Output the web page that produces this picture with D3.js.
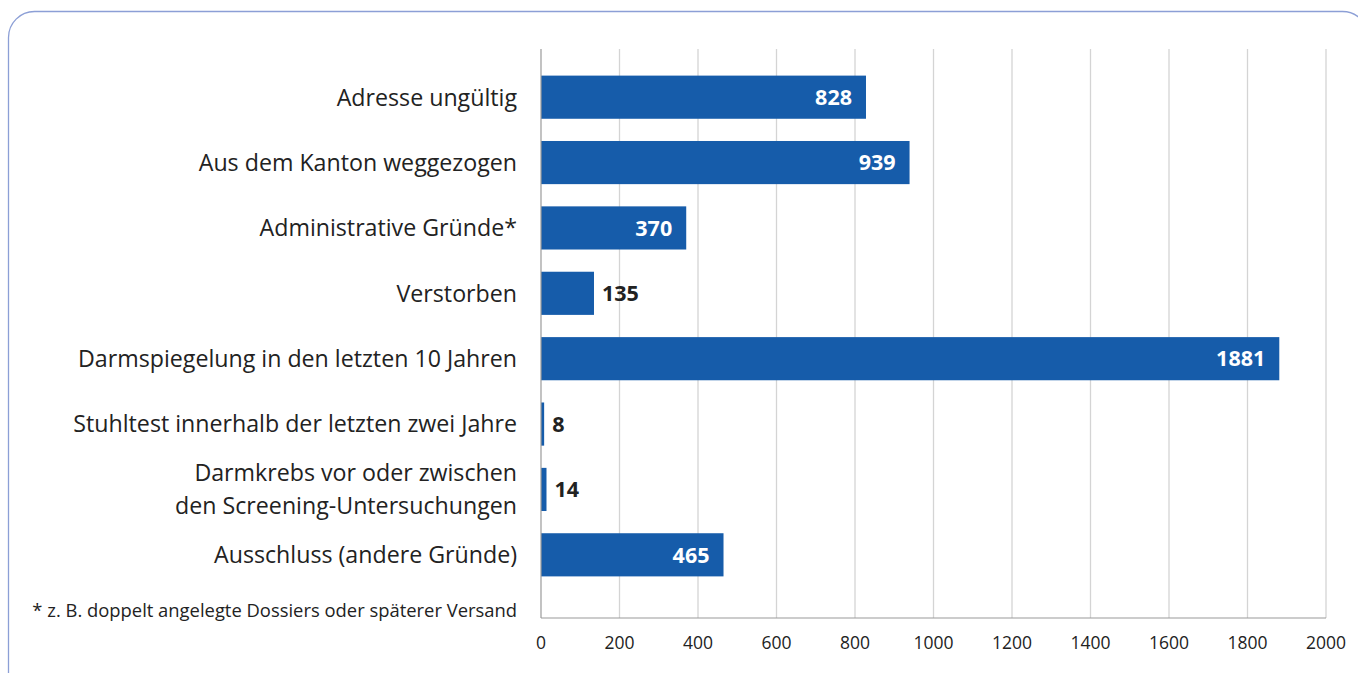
<!DOCTYPE html>
<html>
<head>
<meta charset="utf-8">
<script src="https://cdn.jsdelivr.net/npm/d3@7"></script>
<style>
  body { margin: 0; background: #fff; }
  svg { display: block; font-family: "Open Sans", Lato, sans-serif; }
</style>
</head>
<body>
<svg id="chart" width="1358" height="673"></svg>
<script>
// data
const categories = [
  "Adresse ungültig",
  "Aus dem Kanton weggezogen",
  "Administrative Gründe*",
  "Verstorben",
  "Darmspiegelung in den letzten 10 Jahren",
  "Stuhltest innerhalb der letzten zwei Jahre",
  "Darmkrebs vor oder zwischen\nden Screening-Untersuchungen",
  "Ausschluss (andere Gründe)"
];
const values = [828, 939, 370, 135, 1881, 8, 14, 465];
const tickValues = [0, 200, 400, 600, 800, 1000, 1200, 1400, 1600, 1800, 2000];
const footnote = "* z. B. doppelt angelegte Dossiers oder späterer Versand";

const svg = d3.select("#chart");
const barColor = "#165CAA";

// rounded frame
svg.append("rect")
  .attr("x", 8.5).attr("y", 11.5)
  .attr("width", 1360).attr("height", 700)
  .attr("rx", 26).attr("ry", 26)
  .attr("fill", "none")
  .attr("stroke", "#8C9FD6")
  .attr("stroke-width", 1.3);

const x = d3.scaleLinear().domain([0, 2000]).range([541, 1326]);
const y = d3.scaleBand().domain(d3.range(categories.length)).range([64.5, 587.5]).paddingInner(0.34).paddingOuter(0.17);

const gridTop = 49, gridBottom = 618;

// gridlines
svg.append("g").selectAll("line")
  .data(tickValues.slice(1))
  .join("line")
  .attr("x1", d => x(d)).attr("x2", d => x(d))
  .attr("y1", gridTop).attr("y2", gridBottom)
  .attr("stroke", "#d4d4d4").attr("stroke-width", 1.3);

// bars
svg.append("g").selectAll("rect")
  .data(values)
  .join("rect")
  .attr("x", x(0))
  .attr("y", (d, i) => y(i))
  .attr("width", d => x(d) - x(0))
  .attr("height", y.bandwidth())
  .attr("fill", barColor);

// axis lines
svg.append("line")
  .attr("x1", x(0)).attr("x2", x(0))
  .attr("y1", gridTop).attr("y2", gridBottom)
  .attr("stroke", "#9a9a9a").attr("stroke-width", 1.2);
svg.append("line")
  .attr("x1", x(0)).attr("x2", x(2000))
  .attr("y1", gridBottom).attr("y2", gridBottom)
  .attr("stroke", "#9a9a9a").attr("stroke-width", 1.2);

// tick labels
svg.append("g").selectAll("text")
  .data(tickValues)
  .join("text")
  .attr("x", d => x(d))
  .attr("y", 649)
  .attr("text-anchor", "middle")
  .attr("font-size", 17.5)
  .attr("fill", "#222")
  .text(d => d);

// value labels
svg.append("g").selectAll("text")
  .data(values)
  .join("text")
  .attr("x", d => d > 200 ? x(d) - 14 : x(d) + 8)
  .attr("y", (d, i) => y(i) + y.bandwidth() / 2)
  .attr("dy", "0.36em")
  .attr("text-anchor", d => d > 200 ? "end" : "start")
  .attr("font-size", 21.5)
  .attr("font-weight", "bold")
  .attr("fill", d => d > 200 ? "#fff" : "#222")
  .text(d => d);

// category labels
const cat = svg.append("g").selectAll("text")
  .data(categories)
  .join("text")
  .attr("text-anchor", "end")
  .attr("font-size", 23.2)
  .attr("fill", "#222");
cat.each(function(d, i) {
  const lines = d.split("\n");
  const cy = y(i) + y.bandwidth() / 2;
  const lh = 33;
  d3.select(this).selectAll("tspan")
    .data(lines)
    .join("tspan")
    .attr("x", 517)
    .attr("y", (l, k) => cy + (k - (lines.length - 1) / 2) * lh)
    .attr("dy", "0.36em")
    .text(l => l);
});

// footnote
svg.append("text")
  .attr("x", 517).attr("y", 617)
  .attr("text-anchor", "end")
  .attr("font-size", 18.4)
  .attr("fill", "#222")
  .text(footnote);
</script>
</body>
</html>
